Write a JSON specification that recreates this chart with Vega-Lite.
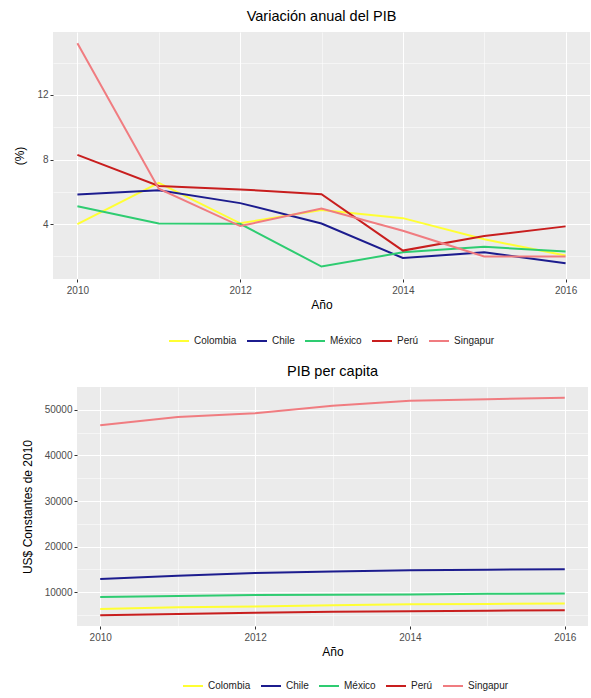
{
  "$schema": "https://vega.github.io/schema/vega-lite/v6.json",
  "background": "white",
  "padding": {"left": 13, "top": 8, "right": 2, "bottom": 2},
  "datasets": {
    "crec": [
      {"anio": 2010, "pais": "Colombia", "valor": 4.0},
      {"anio": 2011, "pais": "Colombia", "valor": 6.55},
      {"anio": 2012, "pais": "Colombia", "valor": 4.05},
      {"anio": 2013, "pais": "Colombia", "valor": 4.87},
      {"anio": 2014, "pais": "Colombia", "valor": 4.37},
      {"anio": 2015, "pais": "Colombia", "valor": 3.06},
      {"anio": 2016, "pais": "Colombia", "valor": 2.05},
      {"anio": 2010, "pais": "Chile", "valor": 5.83},
      {"anio": 2011, "pais": "Chile", "valor": 6.1},
      {"anio": 2012, "pais": "Chile", "valor": 5.3},
      {"anio": 2013, "pais": "Chile", "valor": 4.04},
      {"anio": 2014, "pais": "Chile", "valor": 1.9},
      {"anio": 2015, "pais": "Chile", "valor": 2.25},
      {"anio": 2016, "pais": "Chile", "valor": 1.58},
      {"anio": 2010, "pais": "México", "valor": 5.1},
      {"anio": 2011, "pais": "México", "valor": 4.04},
      {"anio": 2012, "pais": "México", "valor": 4.02},
      {"anio": 2013, "pais": "México", "valor": 1.37},
      {"anio": 2014, "pais": "México", "valor": 2.25},
      {"anio": 2015, "pais": "México", "valor": 2.6},
      {"anio": 2016, "pais": "México", "valor": 2.3},
      {"anio": 2010, "pais": "Perú", "valor": 8.29},
      {"anio": 2011, "pais": "Perú", "valor": 6.36},
      {"anio": 2012, "pais": "Perú", "valor": 6.15},
      {"anio": 2013, "pais": "Perú", "valor": 5.85},
      {"anio": 2014, "pais": "Perú", "valor": 2.36},
      {"anio": 2015, "pais": "Perú", "valor": 3.26},
      {"anio": 2016, "pais": "Perú", "valor": 3.86},
      {"anio": 2010, "pais": "Singapur", "valor": 15.2},
      {"anio": 2011, "pais": "Singapur", "valor": 6.19},
      {"anio": 2012, "pais": "Singapur", "valor": 3.88},
      {"anio": 2013, "pais": "Singapur", "valor": 4.96},
      {"anio": 2014, "pais": "Singapur", "valor": 3.59},
      {"anio": 2015, "pais": "Singapur", "valor": 1.99},
      {"anio": 2016, "pais": "Singapur", "valor": 2.0}
    ],
    "pibpc": [
      {"anio": 2010, "pais": "Colombia", "valor": 6350},
      {"anio": 2011, "pais": "Colombia", "valor": 6700},
      {"anio": 2012, "pais": "Colombia", "valor": 6900},
      {"anio": 2013, "pais": "Colombia", "valor": 7150},
      {"anio": 2014, "pais": "Colombia", "valor": 7350},
      {"anio": 2015, "pais": "Colombia", "valor": 7450},
      {"anio": 2016, "pais": "Colombia", "valor": 7520},
      {"anio": 2010, "pais": "Chile", "valor": 12920},
      {"anio": 2011, "pais": "Chile", "valor": 13600},
      {"anio": 2012, "pais": "Chile", "valor": 14230},
      {"anio": 2013, "pais": "Chile", "valor": 14550},
      {"anio": 2014, "pais": "Chile", "valor": 14820},
      {"anio": 2015, "pais": "Chile", "valor": 14950},
      {"anio": 2016, "pais": "Chile", "valor": 15040},
      {"anio": 2010, "pais": "México", "valor": 8980},
      {"anio": 2011, "pais": "México", "valor": 9200},
      {"anio": 2012, "pais": "México", "valor": 9400},
      {"anio": 2013, "pais": "México", "valor": 9430},
      {"anio": 2014, "pais": "México", "valor": 9530},
      {"anio": 2015, "pais": "México", "valor": 9650},
      {"anio": 2016, "pais": "México", "valor": 9710},
      {"anio": 2010, "pais": "Perú", "valor": 4960},
      {"anio": 2011, "pais": "Perú", "valor": 5240},
      {"anio": 2012, "pais": "Perú", "valor": 5500},
      {"anio": 2013, "pais": "Perú", "valor": 5750},
      {"anio": 2014, "pais": "Perú", "valor": 5830},
      {"anio": 2015, "pais": "Perú", "valor": 5950},
      {"anio": 2016, "pais": "Perú", "valor": 6060},
      {"anio": 2010, "pais": "Singapur", "valor": 46640},
      {"anio": 2011, "pais": "Singapur", "valor": 48400},
      {"anio": 2012, "pais": "Singapur", "valor": 49270},
      {"anio": 2013, "pais": "Singapur", "valor": 50880},
      {"anio": 2014, "pais": "Singapur", "valor": 51970},
      {"anio": 2015, "pais": "Singapur", "valor": 52340},
      {"anio": 2016, "pais": "Singapur", "valor": 52630}
    ]
  },
  "config": {
    "font": "Liberation Sans",
    "view": {"fill": "#EBEBEB", "stroke": null},
    "axis": {
      "domain": false,
      "gridColor": "white",
      "tickColor": "#333333",
      "tickSize": 3,
      "labelColor": "#4D4D4D",
      "labelFontSize": 10,
      "labelPadding": 2,
      "titleFontSize": 12,
      "titleFontWeight": "normal",
      "titleColor": "black"
    },
    "axisX": {"labelPadding": 3, "titlePadding": 4},
    "title": {"fontSize": 14.5, "fontWeight": "normal", "anchor": "middle", "offset": 8},
    "legend": {
      "orient": "none",
      "direction": "horizontal",
      "symbolType": "stroke",
      "symbolSize": 400,
      "symbolStrokeWidth": 2,
      "labelFontSize": 10,
      "labelColor": "#222222",
      "columnPadding": 6,
      "labelOffset": 4
    }
  },
  "resolve": {"scale": {"color": "independent"}, "legend": {"color": "independent"}},
  "spacing": 17,
  "vconcat": [
    {
      "title": {"text": "Variación anual del PIB"},
      "width": 537,
      "height": 247,
      "data": {"name": "crec"},
      "mark": {"type": "line", "strokeWidth": 2},
      "encoding": {
        "x": {
          "field": "anio", "type": "quantitative",
          "scale": {"domain": [2009.7, 2016.3], "nice": false, "zero": false},
          "axis": {
            "title": "Año",
            "values": [2010, 2011, 2012, 2013, 2014, 2015, 2016],
            "format": "d",
            "labelExpr": "datum.value % 2 === 0 ? datum.label : ''",
            "gridWidth": {"condition": {"test": "datum.value % 2 === 0", "value": 1.1}, "value": 0.5},
            "tickOpacity": {"condition": {"test": "datum.value % 2 === 0", "value": 1}, "value": 0}
          }
        },
        "y": {
          "field": "valor", "type": "quantitative",
          "scale": {"domain": [0.6, 15.9], "nice": false, "zero": false},
          "axis": {
            "title": "(%)",
            "titlePadding": 10,
            "values": [2, 4, 6, 8, 10, 12, 14],
            "labelExpr": "datum.value % 4 === 0 ? datum.label : ''",
            "gridWidth": {"condition": {"test": "datum.value % 4 === 0", "value": 1.1}, "value": 0.5},
            "tickOpacity": {"condition": {"test": "datum.value % 4 === 0", "value": 1}, "value": 0}
          }
        },
        "color": {
          "field": "pais", "type": "nominal",
          "scale": {
            "domain": ["Colombia", "Chile", "México", "Perú", "Singapur"],
            "range": ["#FFFF33", "#1C1C8E", "#2ECC71", "#C81E1E", "#F07C80"]
          },
          "legend": {"title": null, "legendX": 115, "legendY": 298}
        }
      }
    },
    {
      "hconcat": [
        {
          "width": 24,
          "height": 239,
          "view": {"fill": null, "stroke": null},
          "data": {"values": []},
          "mark": {"type": "point"}
        },
        {
          "title": {"text": "PIB per capita"},
          "width": 511,
          "height": 239,
          "data": {"name": "pibpc"},
          "mark": {"type": "line", "strokeWidth": 2},
          "encoding": {
            "x": {
              "field": "anio", "type": "quantitative",
              "scale": {"domain": [2009.7, 2016.3], "nice": false, "zero": false},
              "axis": {
                "title": "Año",
                "values": [2010, 2011, 2012, 2013, 2014, 2015, 2016],
                "format": "d",
                "labelExpr": "datum.value % 2 === 0 ? datum.label : ''",
                "gridWidth": {"condition": {"test": "datum.value % 2 === 0", "value": 1.1}, "value": 0.5},
                "tickOpacity": {"condition": {"test": "datum.value % 2 === 0", "value": 1}, "value": 0}
              }
            },
            "y": {
              "field": "valor", "type": "quantitative",
              "scale": {"domain": [2600, 55000], "nice": false, "zero": false},
              "axis": {
                "title": "US$ Constantes de 2010",
                "titlePadding": 10,
                "format": "d",
                "values": [5000, 10000, 15000, 20000, 25000, 30000, 35000, 40000, 45000, 50000],
                "labelExpr": "datum.value % 10000 === 0 ? datum.label : ''",
                "gridWidth": {"condition": {"test": "datum.value % 10000 === 0", "value": 1.1}, "value": 0.5},
                "tickOpacity": {"condition": {"test": "datum.value % 10000 === 0", "value": 1}, "value": 0}
              }
            },
            "color": {
              "field": "pais", "type": "nominal",
              "scale": {
                "domain": ["Colombia", "Chile", "México", "Perú", "Singapur"],
                "range": ["#FFFF33", "#1C1C8E", "#2ECC71", "#C81E1E", "#F07C80"]
              },
              "legend": {"title": null, "legendX": 105, "legendY": 288}
            }
          }
        }
      ],
      "bounds": "flush",
      "spacing": 0,
      "resolve": {"scale": {"color": "independent"}, "legend": {"color": "independent"}}
    }
  ]
}
